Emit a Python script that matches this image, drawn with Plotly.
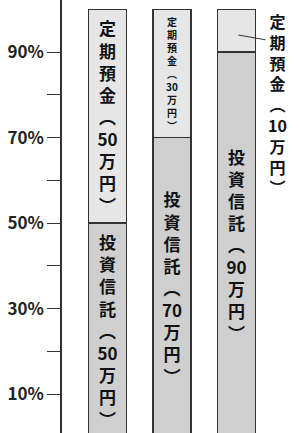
import plotly.graph_objects as go

# Data
plans = ["A", "B", "C"]
deposit = [50, 30, 10]      # 定期預金（万円）
fund = [50, 70, 90]         # 投資信託（万円）
tick_vals = [10, 30, 50, 70, 90]
tick_text = ["10%", "30%", "50%", "70%", "90%"]
minor_vals = [20, 40, 60, 80]

FONT = "Noto Sans CJK JP"


def vertical(name, v):
    chars = list(name) + ["︵", str(v), "万", "円", "︶"]
    return "<br>".join(chars)


x_idx = list(range(len(plans)))
dep_text = [vertical("定期預金", v) if v >= 20 else "" for v in deposit]
fund_text = [vertical("投資信託", v) for v in fund]

fig = go.Figure()
fig.add_trace(go.Bar(
    x=x_idx, y=fund, width=0.59,
    marker=dict(color="#cfcfcf", line=dict(color="#333333", width=1.5)),
    text=fund_text, textposition="inside", textangle=0,
    insidetextanchor="middle",
    textfont=dict(family=FONT, size=17, color="#111111", weight="bold"),
    hoverinfo="skip",
))
fig.add_trace(go.Bar(
    x=x_idx, y=deposit, width=0.59,
    marker=dict(color="#e6e6e6", line=dict(color="#333333", width=1.5)),
    text=dep_text, textposition="inside", textangle=0,
    insidetextanchor="middle",
    textfont=dict(family=FONT, size=[17, 10, 17], color="#111111", weight="bold"),
    hoverinfo="skip",
))

# outside label for the small segment of the third bar
small_i = 2
fig.add_annotation(
    x=small_i + 0.64, y=100.6, xref="x", yref="y",
    text=vertical("定期預金", deposit[small_i]),
    showarrow=False, xanchor="center", yanchor="top",
    font=dict(family=FONT, size=16, color="#111111", weight="bold"),
)
fig.add_shape(
    type="line", xref="x", yref="y",
    x0=small_i + 0.03, y0=100 - deposit[small_i] * 0.6,
    x1=small_i + 0.45, y1=100 - deposit[small_i] * 0.71,
    line=dict(color="#333333", width=1),
)

fig.update_layout(
    barmode="stack",
    width=299, height=433,
    margin=dict(l=62, r=0, t=0, b=0, autoexpand=False),
    paper_bgcolor="white", plot_bgcolor="white",
    showlegend=False,
    bargap=0.4,
)
fig.update_xaxes(range=[-0.705, 2.969], visible=False)
fig.update_yaxes(
    range=[0.94, 102.2], automargin=False,
    showline=True, linecolor="#333333", linewidth=1.5,
    showgrid=False, zeroline=False,
    ticks="outside", ticklen=13, tickwidth=1.2, tickcolor="#333333",
    tickvals=tick_vals, ticktext=tick_text,
    tickfont=dict(family=FONT, size=17, color="#222222", weight="bold"),
    minor=dict(tickvals=minor_vals, ticks="outside", ticklen=13,
               tickwidth=1.2, tickcolor="#333333"),
)

fig.write_html(
    "out.html",
    config={"displayModeBar": False},
    post_script="document.body.style.margin='0';document.body.style.padding='0';",
)
